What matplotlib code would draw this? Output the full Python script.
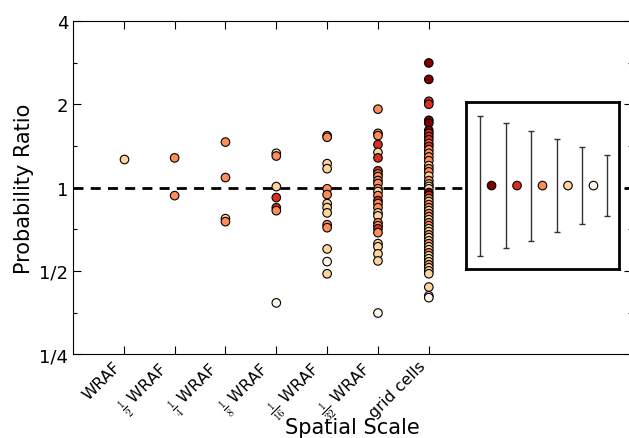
import numpy as np
import matplotlib
matplotlib.use('Agg')
import matplotlib.pyplot as plt
from matplotlib.ticker import FixedLocator, NullFormatter

plt.rcParams['font.family'] = ['DejaVu Sans']
plt.rcParams['mathtext.fontset'] = 'cm'

# ---------------- data ----------------
categories = ['WRAF', r'$\frac{1}{2}$ WRAF', r'$\frac{1}{4}$ WRAF', r'$\frac{1}{8}$ WRAF',
              r'$\frac{1}{16}$ WRAF', r'$\frac{1}{32}$ WRAF', 'grid cells']
palette = ['#7f0000', '#d7301f', '#fc8d59', '#fdd49e', '#fff7ec']

y_ticks = [0.25, 0.5, 1, 2, 4]
y_tick_labels = ['1/4', '1/2', '1', '2', '4']

ratios_wraf = [1.27]
levels_wraf = [3]

ratios_half = [1.28, 0.935]
levels_half = [2, 2]

ratios_quarter = [1.46, 1.087, 0.772, 0.753]
levels_quarter = [2, 2, 3, 2]

ratios_eighth = [1.33, 1.30, 1.008, 0.92, 0.846, 0.825, 0.383]
levels_eighth = [3, 2, 3, 1, 1, 2, 4]

ratios_16th = [1.54, 1.52, 1.22, 1.17, 0.99, 0.943, 0.875, 0.846, 0.81,
               0.734, 0.716, 0.60, 0.54, 0.488]
levels_16th = [2, 2, 3, 3, 2, 2, 3, 3, 3, 2, 2, 3, 4, 3]

ratios_32nd = [1.92, 1.57, 1.54, 1.43, 1.34, 1.28, 1.15, 1.12, 1.096, 1.06, 1.034,
               0.99, 0.967, 0.935, 0.897, 0.875, 0.846, 0.81, 0.79, 0.746, 0.728,
               0.71, 0.687, 0.627, 0.611, 0.576, 0.543, 0.352]
levels_32nd = [2, 2, 2, 1, 3, 1, 1, 2, 2, 2, 2, 2, 3, 2, 1, 2, 2, 3, 3, 2, 2,
               1, 2, 3, 3, 3, 3, 4]

ratios_grid = [2.82, 2.46, 2.05, 2.00, 1.75, 1.71, 1.61, 1.57, 1.53, 1.49, 1.44,
               1.41, 1.37, 1.33, 1.29, 1.25, 1.20, 1.17, 1.14, 1.10, 1.06, 1.03,
               1.01, 0.99, 0.959, 0.935, 0.912, 0.89, 0.868, 0.846, 0.825, 0.805,
               0.785, 0.765, 0.746, 0.728, 0.71, 0.693, 0.675, 0.659, 0.642, 0.627,
               0.611, 0.596, 0.581, 0.567, 0.553, 0.539, 0.526, 0.513, 0.50, 0.488,
               0.437, 0.406, 0.40]
levels_grid = [0, 0, 1, 1, 0, 0, 0, 1, 1, 1, 2, 1, 2, 2, 2, 2, 3, 2, 2, 3, 2, 3,
               3, 3, 0, 1, 2, 3, 2, 2, 3, 2, 2, 3, 2, 2, 3, 3, 2, 3, 3, 2, 3, 3,
               2, 3, 3, 3, 2, 3, 3, 3, 3, 4, 4]

all_ratios = [ratios_wraf, ratios_half, ratios_quarter, ratios_eighth,
              ratios_16th, ratios_32nd, ratios_grid]
all_levels = [levels_wraf, levels_half, levels_quarter, levels_eighth,
              levels_16th, levels_32nd, levels_grid]

# inset: log2 half-widths of the uncertainty bars, and colour levels of dots
inset_half_widths = [0.84, 0.75, 0.66, 0.555, 0.46, 0.37]
inset_levels = [0, 1, 2, 3, 4]

# ---------------- figure ----------------
fig = plt.figure(figsize=(6.29, 4.39), dpi=100)
ax = fig.add_axes([0.116, 0.191, 0.889, 0.759])
ax.set_yscale('log', base=2)
ax.set_ylim(0.25, 4)
ax.set_xlim(0, 11)

ax.axhline(1, color='k', lw=2, dashes=(3.6, 2.6), zorder=1)

for i, (vals, levs) in enumerate(zip(all_ratios, all_levels), start=1):
    ax.scatter([i] * len(vals), vals, s=38, c=[palette[l] for l in levs],
               edgecolors='k', linewidths=0.8, zorder=3)

ax.set_yticks(y_ticks)
ax.set_yticklabels(y_tick_labels, fontsize=13)
ax.yaxis.set_minor_locator(FixedLocator([2 ** (k + 0.5) for k in range(-2, 2)]))
ax.yaxis.set_minor_formatter(NullFormatter())

ax.set_xticks(range(1, len(categories) + 1))
ax.set_xticklabels(categories, rotation=45, ha='right', fontsize=11.5)
ax.xaxis.set_minor_locator(FixedLocator([]))

ax.tick_params(which='major', direction='in', top=True, right=True, length=6, width=0.8)
ax.tick_params(which='minor', direction='in', top=True, right=True, length=3, width=0.8)
ax.tick_params(axis='x', pad=3)

ax.set_xlabel('Spatial Scale', fontsize=15, va='center')
ax.xaxis.set_label_coords(0.5, -0.219)
ax.set_ylabel('Probability Ratio', fontsize=15)

# inset
axins = fig.add_axes([0.741, 0.385, 0.243, 0.380])
axins.set_xlim(0, 6)
axins.set_ylim(-1, 1)
bar_x = np.arange(len(inset_half_widths)) + 0.55
axins.errorbar(bar_x, np.zeros(len(bar_x)), yerr=inset_half_widths, fmt='none',
               ecolor='#333333', elinewidth=1, capsize=2.5, capthick=1)
dot_x = np.arange(1, len(inset_levels) + 1)
axins.scatter(dot_x, np.zeros(len(dot_x)), s=38, c=[palette[l] for l in inset_levels],
              edgecolors='k', linewidths=0.8, zorder=3)
axins.set_xticks([])
axins.set_yticks([])
for sp in axins.spines.values():
    sp.set_linewidth(2)

fig.savefig('out.png', dpi=100)
